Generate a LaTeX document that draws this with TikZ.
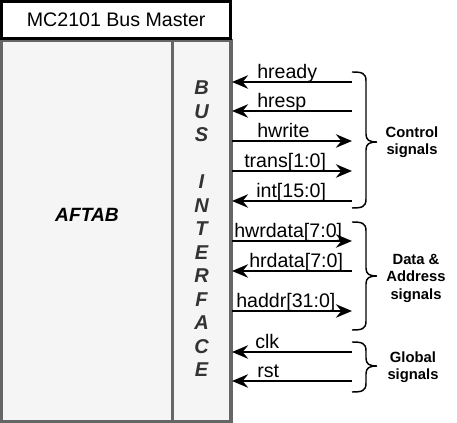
\documentclass[tikz,border=0pt]{standalone}
\usepackage{fontspec}
\setmainfont{Liberation Sans}
\usetikzlibrary{arrows.meta}

\definecolor{boxfill}{HTML}{F5F5F5}
\definecolor{boxline}{HTML}{666666}
\definecolor{boxtext}{HTML}{333333}

% curly bracket on the right of the signals: top, tip, bottom
\newcommand{\signalbrace}[3]{%
	\draw[line width=1.1pt] (352,#1) .. controls (362,#1) and (366,#1+1) .. (366,#1+9) -- (366,#2-8)
		.. controls (366,#2-2) and (369,#2) .. (377,#2)
		.. controls (369,#2) and (366,#2+2) .. (366,#2+8) -- (366,#3-9)
		.. controls (366,#3-1) and (362,#3) .. (352,#3);}

\begin{document}
\begin{tikzpicture}[x=0.75pt, y=-0.75pt,
	sig/.style={line width=2.2pt},
	insig/.style={sig, {Stealth[length=12pt, width=10pt, inset=4pt]}-},
	outsig/.style={sig, -{Stealth[length=12pt, width=10pt, inset=4pt]}},
	siglabel/.style={anchor=base west, inner sep=0pt, font=\fontsize{14.7}{17}\selectfont},
	grouplabel/.style={align=center, inner sep=0pt, font=\bfseries\fontsize{11.1}{13.1}\selectfont},
	busletter/.style={inner sep=0pt, text=boxtext, font=\fontsize{15}{17}\selectfont\bfseries\itshape}]

	\useasboundingbox (0,0) rectangle (457,423);

	\pgfmathsetmacro{\letterstep}{23.5}
	\pgfmathsetmacro{\wirewest}{232}
	\pgfmathsetmacro{\wireeast}{352}

	% draw the master block
	\node (master) [draw=boxline, fill=boxfill, line width=2.25pt, outer sep=0pt, inner sep=0pt,
		anchor=north west, minimum width=172.1pt, minimum height=285.75pt] at (1.5,40.5) {};
	\node (busif) [draw=boxline, line width=2.25pt, outer sep=0pt, inner sep=0pt,
		anchor=north west, minimum width=44.6pt, minimum height=285.75pt] at (172,40.5) {};
	\node (title) [draw=black, line width=2.25pt, outer sep=0pt, inner sep=0pt,
		anchor=north west, minimum width=172.1pt, minimum height=27.75pt,
		font=\fontsize{14.7}{17}\selectfont] at (1.5,1.5) {MC2101 Bus Master};

	\node (core) [inner sep=0pt, font=\bfseries\itshape\fontsize{14.4}{17}\selectfont] at (87,215) {AFTAB};

	% draw the vertical bus interface text
	\foreach \letterchar [count=\k] in {B,U,S,{},I,N,T,E,R,F,A,C,E}
	{
		\node (bus\k) [busletter] at (201.5, 88 + \letterstep * \k - \letterstep) {\letterchar};
	}

	% draw the signals
	\foreach \y/\lx/\lab/\dir [count=\i] in {82/257/hready/insig, 111/257/hresp/insig,
		141/257/hwrite/outsig, 171/244/{trans[1:0]}/outsig, 201/256/{int[15:0]}/insig,
		241/234/{hwrdata[7:0]}/outsig, 271/249/{hrdata[7:0]}/insig, 311/236/{haddr[31:0]}/outsig,
		352/255/clk/insig, 381/257/rst/insig}
	{
		\coordinate (w\i) at (\wirewest,\y);
		\coordinate (e\i) at (\wireeast,\y);
		\draw[\dir] (w\i) -- (e\i);
		\node (lab\i) [siglabel] at (\lx,\y - 3) {\lab};
	}

	% draw the signal groups
	\signalbrace{72}{142}{208}
	\signalbrace{222}{276}{330}
	\signalbrace{342}{366}{392}
	\node (control) [grouplabel] at (412,142) {Control\\signals};
	\node (data) [grouplabel] at (416,278) {Data \&\\Address\\signals};
	\node (global) [grouplabel] at (413,367) {Global\\signals};
\end{tikzpicture}
\end{document}
